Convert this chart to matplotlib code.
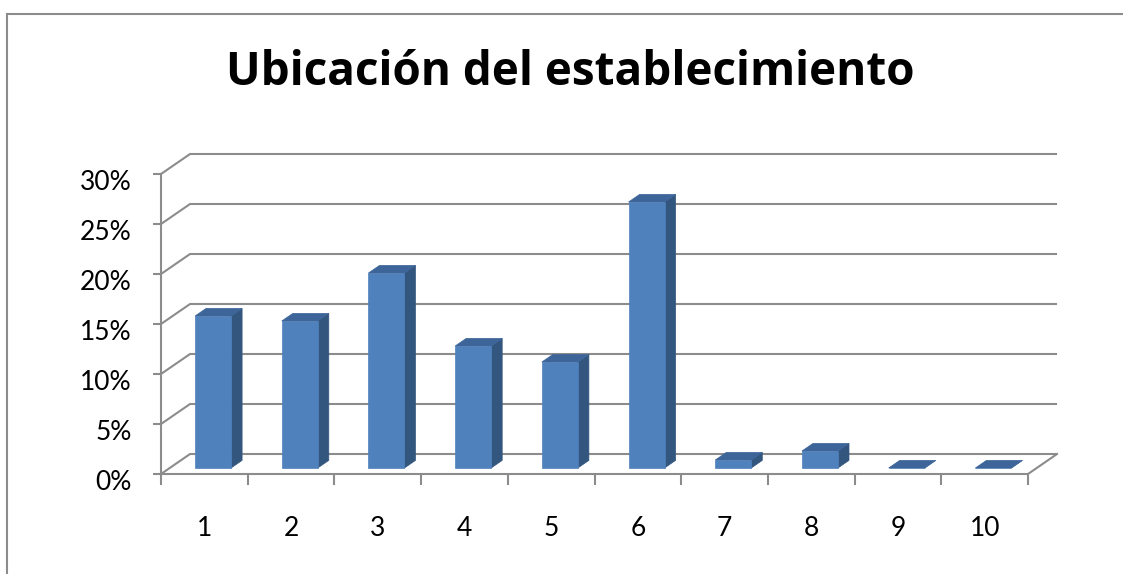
import matplotlib
matplotlib.use("Agg")
import matplotlib.pyplot as plt
import matplotlib.transforms as mtransforms
from matplotlib.patches import Polygon
from matplotlib.lines import Line2D

# ---- data ----
categories = ['1', '2', '3', '4', '5', '6', '7', '8', '9', '10']
values = [15.2, 14.7, 19.5, 12.2, 10.6, 26.6, 0.8, 1.7, 0.0, 0.0]
y_ticks = [0, 5, 10, 15, 20, 25, 30]
y_tick_labels = ['0%', '5%', '10%', '15%', '20%', '25%', '30%']
title = 'Ubicación del establecimiento'

# ---- style ----
FONT = 'Lato'
TITLE_FONT = 'Open Sans'
GRID = '#8c8c8c'
FRONT = '#4F81BD'
SIDE = '#33567F'
TOP = '#3D659A'

W, H, DPI = 1123, 574, 100
fig = plt.figure(figsize=(W / DPI, H / DPI), dpi=DPI)
fig.patch.set_facecolor('white')

# front plane of the 3-D box
ax = fig.add_axes([161 / W, (H - 474) / H, 867 / W, 300 / H])
n = len(categories)
ax.set_xlim(0, n)
ax.set_ylim(y_ticks[0], y_ticks[-1])
ax.patch.set_visible(False)

# oblique depth of the box, in data units
DX, DY = 0.335, 2.0
# bar geometry: width along x, depth span inside the box
BW, D0, D1 = 0.415, 0.30, 0.68


def depth(x, y, d):
    return (x + d * DX, y + d * DY)


# back wall / side wall gridlines
for v in y_ticks:
    ax.plot([0, DX, n + DX], [v, v + DY, v + DY], color=GRID, lw=1.5,
            clip_on=False, zorder=1, solid_capstyle='butt')
# right edge of the floor
ax.plot([n, n + DX], [0, DY], color=GRID, lw=1.5, clip_on=False, zorder=1)

# 3-D columns
for i, v in enumerate(values):
    c = i + 0.5
    xl, xr = c - BW / 2, c + BW / 2
    front = [depth(xl, 0, D0), depth(xr, 0, D0), depth(xr, v, D0), depth(xl, v, D0)]
    side = [depth(xr, 0, D0), depth(xr, 0, D1), depth(xr, v, D1), depth(xr, v, D0)]
    top = [depth(xl, v, D0), depth(xr, v, D0), depth(xr, v, D1), depth(xl, v, D1)]
    for pts, col in ((side, SIDE), (front, FRONT), (top, TOP)):
        ax.add_patch(Polygon(pts, closed=True, facecolor=col, edgecolor=col,
                             lw=0.5, clip_on=False, zorder=3))

# axes lines and ticks
for s in ('top', 'right'):
    ax.spines[s].set_visible(False)
for s in ('left', 'bottom'):
    ax.spines[s].set_color(GRID)
    ax.spines[s].set_linewidth(1.5)
    ax.spines[s].set_zorder(2)

ax.set_yticks(y_ticks, y_tick_labels)
ax.set_xticks(range(n + 1))
ax.set_xticklabels([])
ax.set_xticks([i + 0.5 for i in range(n)], categories, minor=True)

ax.tick_params(axis='y', length=6, width=1.5, color=GRID, pad=15,
               labelsize=19, labelcolor='black')
ax.tick_params(axis='x', which='major', length=8, width=1.5, color=GRID)
ax.tick_params(axis='x', which='minor', length=0, pad=30,
               labelsize=19, labelcolor='black')
for lab in ax.get_yticklabels() + ax.get_xticklabels(minor=True):
    lab.set_fontfamily(FONT)
shift = mtransforms.ScaledTranslation(0, -6 / DPI, fig.dpi_scale_trans)
for lab in ax.get_yticklabels():
    lab.set_transform(lab.get_transform() + shift)

# title
fig.text(570 / W, 1 - 85 / H, title, ha='center', va='baseline',
         fontsize=33, fontweight='bold', fontfamily=TITLE_FONT, color='black')

# chart frame (top and left edges)
ytop = 1 - 14 / H
fig.add_artist(Line2D([7 / W, 7 / W], [0, ytop], transform=fig.transFigure,
                      color=GRID, lw=1.5))
fig.add_artist(Line2D([7 / W, 1], [ytop, ytop], transform=fig.transFigure,
                      color=GRID, lw=1.5))

fig.savefig('out.png', dpi=DPI)
